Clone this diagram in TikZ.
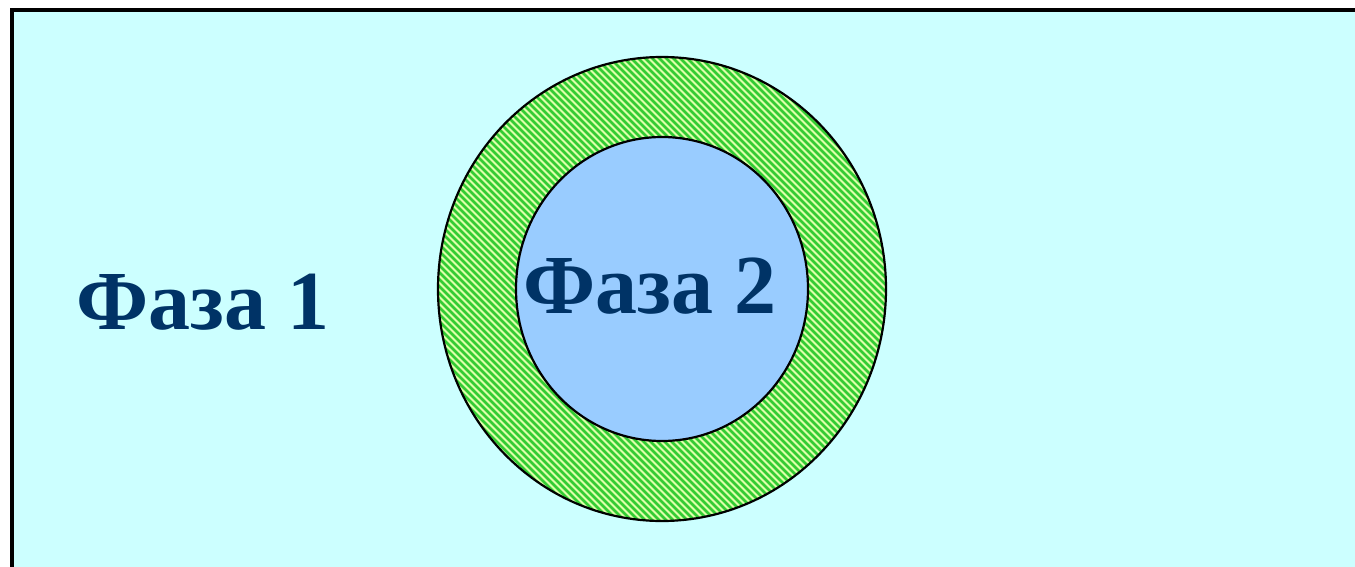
\documentclass[tikz,border=0pt]{standalone}
\usepackage{fontspec}
\setmainfont{Liberation Serif}
\usepackage{xcolor}
\usepackage{tikz}
\definecolor{faseUm}{HTML}{CCFFFF}
\definecolor{faseDois}{HTML}{99CCFF}
\definecolor{camadaVerde}{HTML}{33CC33}
\definecolor{camadaClara}{HTML}{DDFFAA}
\definecolor{textoAzul}{HTML}{003366}

\begin{document}
\begin{tikzpicture}[x=1pt, y=-1pt,
  rotulo/.style={anchor=base, font=\fontsize{84}{90}\selectfont\bfseries, text=textoAzul, inner sep=0pt},
  contorno/.style={draw=black, line width=2.2pt}]
\clip (0,0) rectangle (1355,567);
% phase 1 background
\draw[fill=faseUm, line width=3.2pt] (12,10) rectangle (1370,590);

% interface layer (hatched ring)
\fill[camadaClara] (662,289) ellipse (224 and 232);
\begin{scope}[even odd rule]
  \clip (662,289) ellipse (224 and 232) (662,289) ellipse (146 and 152);
  \foreach \c in {-120,-113,...,860}{
    \draw[camadaVerde, line width=2.6pt] (\c+20,20) -- (\c+560,560);
  }
\end{scope}
\draw[contorno] (662,289) ellipse (224 and 232);

% phase 2
\draw[contorno, fill=faseDois] (662,289) ellipse (146 and 152);

% labels
\node[rotulo] (fase1) at (203,329) {Фаза 1};
\node[rotulo] (fase2) at (650,313) {Фаза 2};
\end{tikzpicture}
\end{document}
